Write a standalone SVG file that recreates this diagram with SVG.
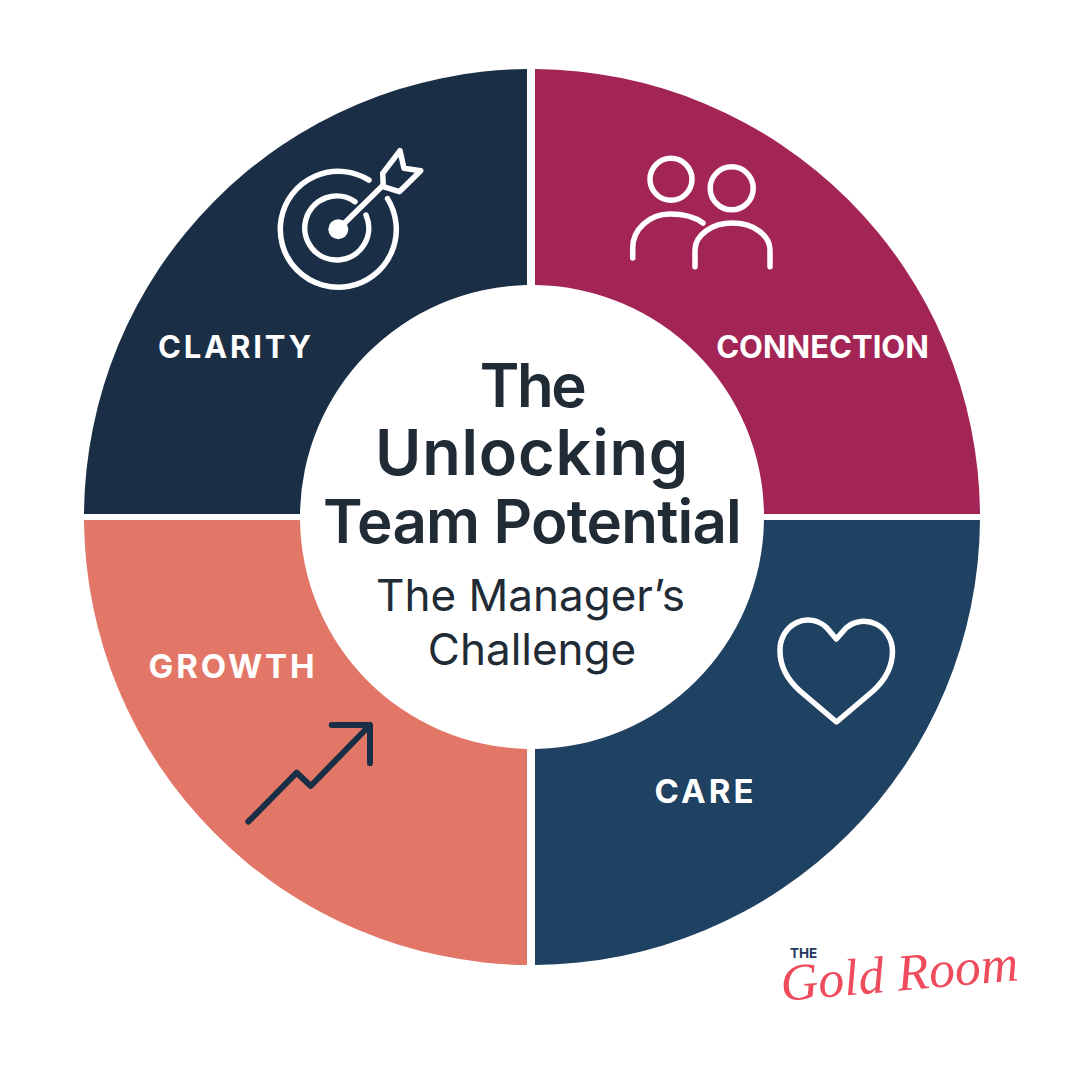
<svg xmlns="http://www.w3.org/2000/svg" width="1080" height="1080" viewBox="0 0 1080 1080">
<style>
.lb{font-family:Inter,"Liberation Sans",sans-serif;font-weight:700;font-size:31px;fill:#fff;text-anchor:middle}
.t{font-family:Inter,"Liberation Sans",sans-serif;font-weight:600;font-size:60px;fill:#212b36;text-anchor:middle}
.s{font-family:Inter,"Liberation Sans",sans-serif;font-weight:400;font-size:44px;fill:#212b36;text-anchor:middle}
.iw{fill:none;stroke:#fff;stroke-width:5.5;stroke-linecap:round;stroke-linejoin:round}
</style>
<rect width="1080" height="1080" fill="#fff"/>
<g id="clarity">
<path d="M527 69A448 448 0 0 0 84 514H300A232 232 0 0 1 527 285Z" fill="#1a2e45"/>
<text class="lb" x="236" y="358" letter-spacing="2.8">CLARITY</text>
<g class="iw">
<path d="M369 180.1A58 58 0 1 0 387.5 198.6"/>
<path d="M355 201.7A32 32 0 1 0 366 215"/>
<path d="M338.3 229.3L383.3 185"/>
<path d="M382.7 173.3L400 150.7L404 168.3L420.7 170.7L399.3 191.7L383.3 186.7Z"/>
</g>
<circle cx="338.3" cy="229.3" r="10" fill="#fff"/>
</g>
<g id="connection">
<path d="M535 69A448 448 0 0 1 980 514H764A232 232 0 0 0 535 285Z" fill="#a32556"/>
<text class="lb" x="822.5" y="358" letter-spacing="0">CONNECTION</text>
<g class="iw">
<circle cx="671" cy="179.3" r="21"/>
<circle cx="731.7" cy="188.3" r="21.5"/>
<path d="M632.7 258V248A37.5 34 0 0 1 670 214C685 214 695 217 703 223"/>
<path d="M695 266.7V250A37.5 27 0 0 1 770 250V266.7"/>
</g>
</g>
<g id="care">
<path d="M535 965A448 448 0 0 0 980 520H764A232 232 0 0 1 535 749Z" fill="#1f4162"/>
<text class="lb" x="705.5" y="803" style="font-size:33px" letter-spacing="3">CARE</text>
<path class="iw" d="M836.3 639L827 628A28 30 0 0 0 780 651C780 668 790 682 800 691L836.5 722L873 691C883 682 892.5 668 892.5 651A28.5 30 0 0 0 846 628Z"/>
</g>
<g id="growth">
<path d="M527 965A448 448 0 0 1 84 520H300A232 232 0 0 0 527 749Z" fill="#e27768"/>
<text class="lb" x="233" y="678" style="font-size:33px" letter-spacing="2.8">GROWTH</text>
<path d="M248.3 821.7L296.7 772.7L310.7 786L370 725M331.7 725H370V763.3" fill="none" stroke="#1a2e45" stroke-width="6" stroke-linecap="round" stroke-linejoin="round"/>
</g>
<g id="center">
<text class="t" x="532" y="407" letter-spacing="-2.5">The</text>
<text class="t" x="532" y="475" style="font-size:63px" letter-spacing="0.8">Unlocking</text>
<text class="t" x="532" y="543" letter-spacing="-0.8">Team Potential</text>
<text class="s" x="530.5" y="611">The Manager’s</text>
<text class="s" x="532" y="665">Challenge</text>
</g>
<g id="logo">
<text x="790" y="958" font-family="Inter,'Liberation Sans',sans-serif" font-weight="700" font-size="13.5" fill="#1f3a5f">THE</text>
<text x="782" y="1001" transform="rotate(-5 782 1001)" font-family="'Liberation Serif',serif" font-style="italic" font-size="52" fill="#ee4c5c">Gold Room</text>
</g>
</svg>
